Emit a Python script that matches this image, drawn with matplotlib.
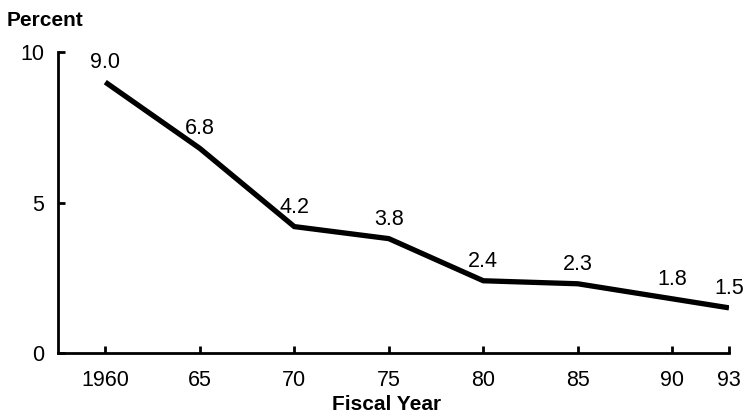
import matplotlib
matplotlib.use('Agg')
import matplotlib.pyplot as plt

plt.rcParams['font.family'] = ['Liberation Sans', 'DejaVu Sans']

years = [1960, 1965, 1970, 1975, 1980, 1985, 1990, 1993]
percent = [9.0, 6.8, 4.2, 3.8, 2.4, 2.3, 1.8, 1.5]
value_labels = ['9.0', '6.8', '4.2', '3.8', '2.4', '2.3', '1.8', '1.5']
tick_labels = ['1960', '65', '70', '75', '80', '85', '90', '93']
y_ticks = [0, 5, 10]

fig = plt.figure(figsize=(7.45, 4.13), dpi=100)
ax = fig.add_axes([0.0779, 0.1453, 0.9006, 0.7287])

ax.plot(years, percent, color='black', lw=3.8, solid_joinstyle='miter', solid_capstyle='butt')

for x, y, s in zip(years, percent, value_labels):
    ax.annotate(s, (x, y), xytext=(0, 14), textcoords='offset points',
                ha='center', va='center', fontsize=15.5)

ax.set_xlim(1957.5, 1993)
ax.set_ylim(0, 10)
ax.set_xticks(years)
ax.set_xticklabels(tick_labels)
ax.set_yticks(y_ticks)

for s in ['top', 'right']:
    ax.spines[s].set_visible(False)
for s in ['left', 'bottom']:
    ax.spines[s].set_linewidth(2)
ax.tick_params(direction='in', length=5, width=2, labelsize=15.5)
ax.tick_params(axis='x', pad=12)
ax.tick_params(axis='y', pad=10)

fig.text(7 / 745, 1 - 20 / 413, 'Percent', fontsize=15, fontweight='bold', ha='left', va='center')
fig.text(387 / 745, 1 - 404 / 413, 'Fiscal Year', fontsize=15, fontweight='bold', ha='center', va='center')

fig.savefig('out.png', dpi=100)
